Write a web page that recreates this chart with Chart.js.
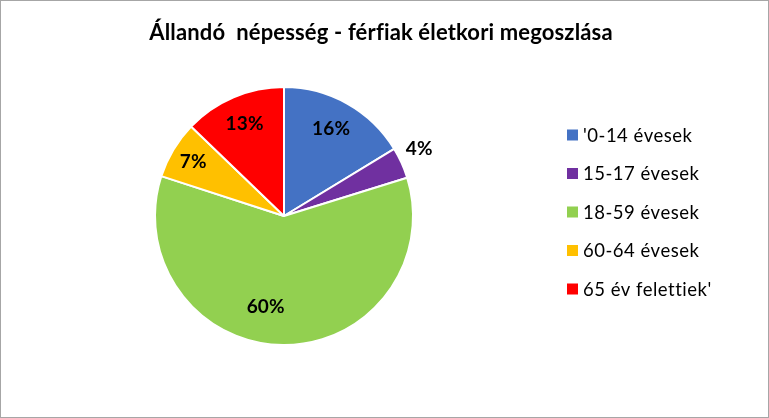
<!DOCTYPE html>
<html>
<head>
<meta charset="utf-8">
<script src="https://cdn.jsdelivr.net/npm/chart.js@4/dist/chart.umd.min.js"></script>
<style>
html,body{margin:0;padding:0;background:#fff;}
#wrap{width:769px;height:418px;position:relative;}
canvas{display:block;font-variant-ligatures:none;}
</style>
</head>
<body>
<div id="wrap"><canvas id="c" width="769" height="418"></canvas></div>
<script>
const chartTitle = "Állandó  népesség - férfiak életkori megoszlása";
const categories = ["'0-14 évesek", "15-17 évesek", "18-59 évesek", "60-64 évesek", "65 év felettiek'"];
const values = [16.3, 3.9, 59.8, 7.2, 12.8];
const colors = ["#4472C4", "#7030A0", "#92D050", "#FFC000", "#FF0000"];

// label placement styling (radius fraction, angle shift in degrees)
const labelRadius = [0.77, 1.17, 0.72, 0.82, 0.78];
const labelShift = [-1, -2, 11, 0, 0];

const FONT = "Lato, 'Open Sans', sans-serif";

function noLig(ctx, sp) {
  try { ctx.textRendering = 'optimizeSpeed'; } catch (e) {}
  try { ctx.letterSpacing = sp; } catch (e) {}
}

const decor = {
  id: 'decor',
  afterDraw(chart) {
    const ctx = chart.ctx;
    ctx.save();
    // outer border
    ctx.strokeStyle = '#A6A6A6';
    ctx.lineWidth = 1;
    ctx.strokeRect(0.5, 0.5, chart.width - 1, chart.height - 1);
    // title
    noLig(ctx, '0.15px');
    ctx.fillStyle = '#000';
    ctx.font = "bold 22px " + FONT;
    ctx.textAlign = 'center';
    ctx.textBaseline = 'alphabetic';
    ctx.fillText(chartTitle, 381, 40);
    // data labels
    ctx.textBaseline = 'middle';
    const meta = chart.getDatasetMeta(0);
    const total = values.reduce((a, b) => a + b, 0);
    ctx.font = "bold 19px " + FONT;
    meta.data.forEach((arc, i) => {
      const p = arc.getProps(['x', 'y', 'startAngle', 'endAngle', 'outerRadius'], true);
      const mid = (p.startAngle + p.endAngle) / 2 + labelShift[i] * Math.PI / 180;
      const r = p.outerRadius * labelRadius[i];
      const x = p.x + Math.cos(mid) * r;
      const y = p.y + Math.sin(mid) * r;
      ctx.fillText(Math.round(values[i] / total * 100) + '%', x, y);
    });
    // legend
    noLig(ctx, '0.5px');
    ctx.textAlign = 'left';
    ctx.font = "18.5px " + FONT;
    categories.forEach((lab, i) => {
      const y = 135 + i * 38.5;
      ctx.fillStyle = colors[i];
      ctx.fillRect(567, y - 5.5, 11, 11);
      ctx.fillStyle = '#000';
      ctx.fillText(lab, 583, y + 1);
    });
    ctx.restore();
  }
};

new Chart(document.getElementById('c'), {
  type: 'pie',
  data: {
    labels: categories,
    datasets: [{
      data: values,
      backgroundColor: colors,
      borderColor: '#FFFFFF',
      borderWidth: 2
    }]
  },
  options: {
    responsive: false,
    animation: false,
    layout: { padding: { left: 154, right: 355, top: 86, bottom: 72 } },
    plugins: {
      legend: { display: false },
      title: { display: false },
      tooltip: { enabled: false }
    }
  },
  plugins: [decor]
});
</script>
</body>
</html>
